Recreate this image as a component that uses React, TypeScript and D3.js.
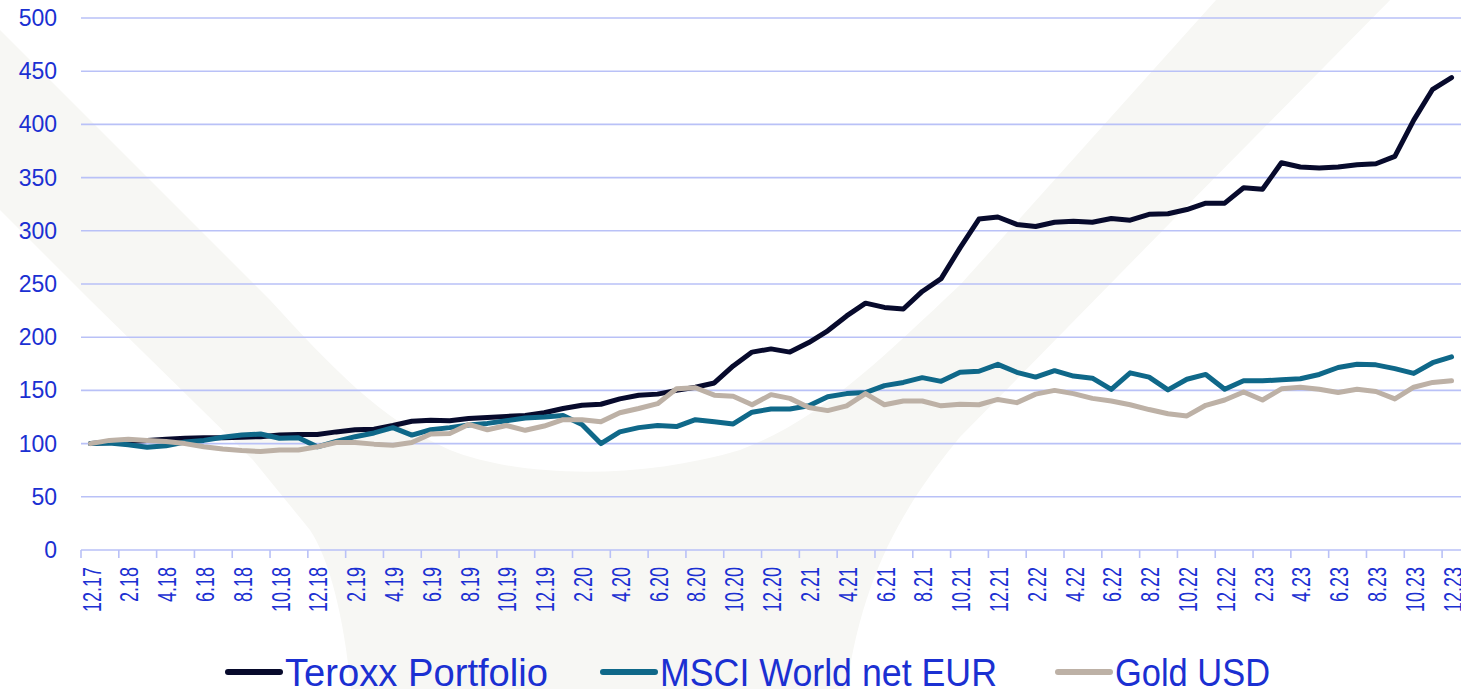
import React from "react";
import * as d3 from "d3";

const tickLabels = [
  "12.17", "2.18", "4.18", "6.18", "8.18", "10.18", "12.18",
  "2.19", "4.19", "6.19", "8.19", "10.19", "12.19",
  "2.20", "4.20", "6.20", "8.20", "10.20", "12.20",
  "2.21", "4.21", "6.21", "8.21", "10.21", "12.21",
  "2.22", "4.22", "6.22", "8.22", "10.22", "12.22",
  "2.23", "4.23", "6.23", "8.23", "10.23", "12.23",
];

const teroxx = [
  100, 101, 102, 103, 104, 105, 105.5, 105.5, 106, 106.5,
  108, 108.5, 108.5, 111, 113, 113.5, 117, 121, 122, 121.5,
  123.5, 124.5, 125.5, 126.5, 129, 133, 136, 137, 142, 145.5,
  146.5, 150, 153, 157, 173, 186, 189, 186, 195, 206,
  220, 232, 228, 226.5, 243, 255, 284, 311, 313, 306,
  304, 308, 309, 308, 311.5, 310, 315.5, 316, 320, 326,
  326, 340.5, 339, 364, 360, 359, 360, 362, 363, 370,
  404, 433, 444,
];

const msci = [
  100, 100.5, 99, 96.5, 98, 101.5, 103, 106, 108, 109,
  105, 105.5, 97, 102, 106.5, 110, 115, 108, 113, 115,
  117.5, 119, 121.5, 124, 125, 126.5, 118, 100, 111, 115,
  117, 116, 122.5, 120.5, 118.5, 129.5, 132.5, 132.5, 135.5, 144,
  147, 148, 154.5, 157.5, 162, 158.5, 167, 168, 174.5, 167,
  162.5, 168.5, 163.5, 161.5, 151, 166.5, 162.5, 150.5, 160.5, 165,
  151, 159, 159, 160, 161, 165, 171.5, 174.5, 174, 170.5,
  166, 176, 181.5,
];

const gold = [
  100, 103, 104, 103, 102, 100, 97, 95, 93.5, 92.5,
  94, 94, 97, 101, 101, 99.5, 98.5, 101, 109, 109.5,
  118, 113, 117, 112.5, 116.5, 122.5, 122.5, 120.5, 129, 133,
  137.5, 151.5, 152.5, 145.5, 144.5, 136.5, 146, 142.5, 134, 131,
  135.5, 147, 136.5, 140, 140, 135.5, 137, 136.5, 141.5, 138.5,
  146.5, 150, 147, 142.5, 140, 136.5, 132, 128, 126, 136,
  141, 148.5, 141, 151.5, 153, 151, 148, 151, 149, 142,
  153, 157.5, 159,
];

const yTicks = [0, 50, 100, 150, 200, 250, 300, 350, 400, 450, 500];

const seriesNames = ["Teroxx Portfolio", "MSCI World net EUR", "Gold USD"];
const seriesColors = ["#070a2c", "#0f6889", "#bdb1a6"];

const W = 1461;
const H = 689;
const M = { left: 81, right: 1461, top: 18, bottom: 550 };
const TEXT = "#1b30d2";
const GRID = "#b9c1f7";
const FONT = "'Liberation Sans', Arial, sans-serif";

export default function App() {
  const n = teroxx.length;
  const x = d3.scaleBand<number>().domain(d3.range(n)).range([M.left, M.right]).padding(0);
  const y = d3.scaleLinear().domain([0, 500]).range([M.bottom, M.top]);
  const cx = (i: number) => (x(i) as number) + x.bandwidth() / 2;
  const line = d3
    .line<number>()
    .x((_, i) => cx(i))
    .y((d) => y(d));

  const data = [teroxx, msci, gold];

  const legendItems = [
    { sx: 228, tx: 285, tl: 263 },
    { sx: 603, tx: 660, tl: 337 },
    { sx: 1058, tx: 1115, tl: 155 },
  ];

  const watermark =
    "M -10 20 L 270 300 C 330 365 380 420 450 450 C 520 478 640 480 740 450 C 820 420 880 360 960 285 L 1225 -10 L 1400 -10 L 1170 223 L 960 437 C 900 510 860 580 845 700 L 352 700 C 345 620 330 560 310 530 L 253 460 L 90 300 L -10 200 Z";

  return (
    <div style={{ position: "absolute", left: 0, top: 0 }}>
      <svg width={W} height={H} style={{ display: "block", background: "#fff" }}>
        <path d={watermark} fill="#f7f7f4" />
        {yTicks.map((t) => (
          <g key={t}>
            <line x1={M.left} x2={M.right} y1={y(t)} y2={y(t)} stroke={GRID} strokeWidth={1.6} />
            <text
              x={57}
              y={y(t)}
              textAnchor="end"
              dominantBaseline="central"
              fontFamily={FONT}
              fontSize={23}
              fill={TEXT}
            >
              {t}
            </text>
          </g>
        ))}
        {tickLabels.map((lab, k) => {
          const i = k * 2;
          const bx = x(i) as number;
          return (
            <g key={lab}>
              <line x1={bx} x2={bx} y1={M.bottom} y2={M.bottom + 8} stroke={GRID} strokeWidth={1.6} />
              <text
                transform={`translate(${cx(i) + 1.5},567) rotate(-90) scale(0.72,1)`}
                textAnchor="end"
                dominantBaseline="central"
                fontFamily={FONT}
                fontSize={25}
                fill={TEXT}
              >
                {lab}
              </text>
            </g>
          );
        })}
        {data.map((s, k) => (
          <path
            key={seriesNames[k]}
            d={line(s) || ""}
            fill="none"
            stroke={seriesColors[k]}
            strokeWidth={5}
            strokeLinejoin="round"
            strokeLinecap="round"
          />
        ))}
        {legendItems.map((it, k) => (
          <g key={seriesNames[k]}>
            <line
              x1={it.sx}
              x2={it.sx + 52}
              y1={672}
              y2={672}
              stroke={seriesColors[k]}
              strokeWidth={6}
              strokeLinecap="round"
            />
            <text
              x={it.tx}
              y={686}
              fontFamily={FONT}
              fontSize={39}
              fill={TEXT}
              textLength={it.tl}
              lengthAdjust="spacingAndGlyphs"
            >
              {seriesNames[k]}
            </text>
          </g>
        ))}
      </svg>
    </div>
  );
}
